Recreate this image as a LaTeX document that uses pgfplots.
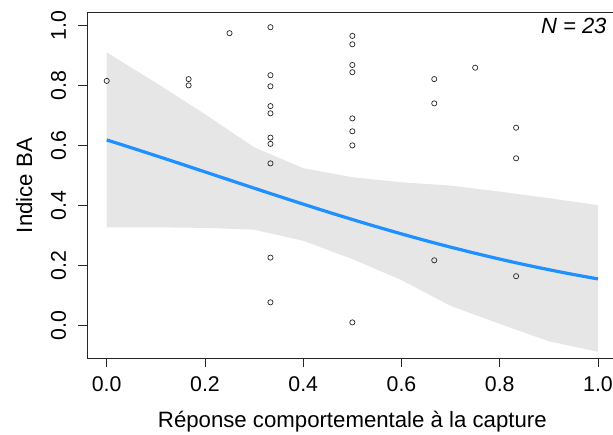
\documentclass[border=0pt]{standalone}
\usepackage{fontspec}
\setmainfont{Liberation Sans}
\usepackage{pgfplots}
\pgfplotsset{compat=1.18}
\definecolor{bandgray}{HTML}{E6E6E6}
\definecolor{rblue}{HTML}{1E90FF}
\begin{document}
\fontsize{21.5}{25}\selectfont
\begin{tikzpicture}
\useasboundingbox (0,0) rectangle (613pt,434pt);
\clip (0,0) rectangle (613pt,434pt);
\begin{axis}[
  at={(87.05pt,75.7pt)}, anchor=south west,
  scale only axis, width=530.6pt, height=345.6pt,
  xmin=-0.04, xmax=1.04, ymin=-0.1087, ymax=1.0433,
  axis line style={black!85, line width=0.8pt},
  xtick={0,0.2,0.4,0.6,0.8,1.0},
  xticklabels={0.0,0.2,0.4,0.6,0.8,1.0},
  ytick={0,0.2,0.4,0.6,0.8,1.0},
  yticklabels={0.0,0.2,0.4,0.6,0.8,1.0},
  xtick pos=lower, ytick pos=left,
  tick align=outside, major tick length=8.8pt,
  tick style={black!85, line width=0.8pt},
  xticklabel style={font=\fontsize{21.3}{25}\selectfont, yshift=-2pt},
  yticklabel style={font=\fontsize{21.3}{25}\selectfont, xshift=-4.7pt, rotate=90},
  xlabel={Réponse comportementale à la capture},
  ylabel={Indice BA},
  xlabel style={font=\fontsize{22.2}{26}\selectfont, at={(axis description cs:0.5,-0.1988)}, anchor=base},
  ylabel style={font=\fontsize{22.2}{26}\selectfont, at={(axis description cs:-0.1037,0.5)}, rotate=0, anchor=base},
  clip=false,
]
\addplot[fill=bandgray, draw=none] coordinates {
  (0,0.911) (0.1,0.81) (0.2,0.705) (0.3,0.595) (0.4,0.525) (0.5,0.495)
  (0.6,0.478) (0.7,0.467) (0.8,0.447) (0.9,0.425) (1,0.402)
  (1,-0.087) (0.9,-0.052) (0.8,0.006) (0.7,0.066) (0.6,0.152) (0.5,0.222)
  (0.4,0.283) (0.3,0.320) (0.2,0.326) (0.1,0.328) (0,0.328)
} -- cycle;
\addplot[rblue, line width=3.2pt, smooth] coordinates {
  (0,0.6192) (0.05,0.5932) (0.1,0.5667) (0.15,0.5399) (0.2,0.5127)
  (0.25,0.4856) (0.3,0.4585) (0.35,0.4316) (0.4,0.4052) (0.45,0.3792)
  (0.5,0.3540) (0.55,0.3295) (0.6,0.3060) (0.65,0.2834) (0.7,0.2618)
  (0.75,0.2414) (0.8,0.2220) (0.85,0.2037) (0.9,0.1867) (0.95,0.1707)
  (1,0.1559)
};
\addplot[only marks, mark=o, mark size=2.6pt, mark options={draw=black!85, line width=0.7pt}] coordinates {
  (0,0.816)
  (0.1667,0.822) (0.1667,0.801)
  (0.25,0.975)
  (0.3333,0.995) (0.3333,0.835) (0.3333,0.798) (0.3333,0.732) (0.3333,0.708)
  (0.3333,0.627) (0.3333,0.606) (0.3333,0.541) (0.3333,0.227) (0.3333,0.078)
  (0.5,0.966) (0.5,0.938) (0.5,0.869) (0.5,0.845) (0.5,0.691) (0.5,0.648)
  (0.5,0.601) (0.5,0.011)
  (0.6667,0.822) (0.6667,0.741) (0.6667,0.218)
  (0.75,0.86)
  (0.8333,0.66) (0.8333,0.558) (0.8333,0.165)
};
\node[anchor=north east, inner sep=0pt, font=\fontsize{22}{26}\selectfont\itshape] at (axis cs:1.0177,1.0257) {N = 23};
\end{axis}
\end{tikzpicture}
\end{document}
